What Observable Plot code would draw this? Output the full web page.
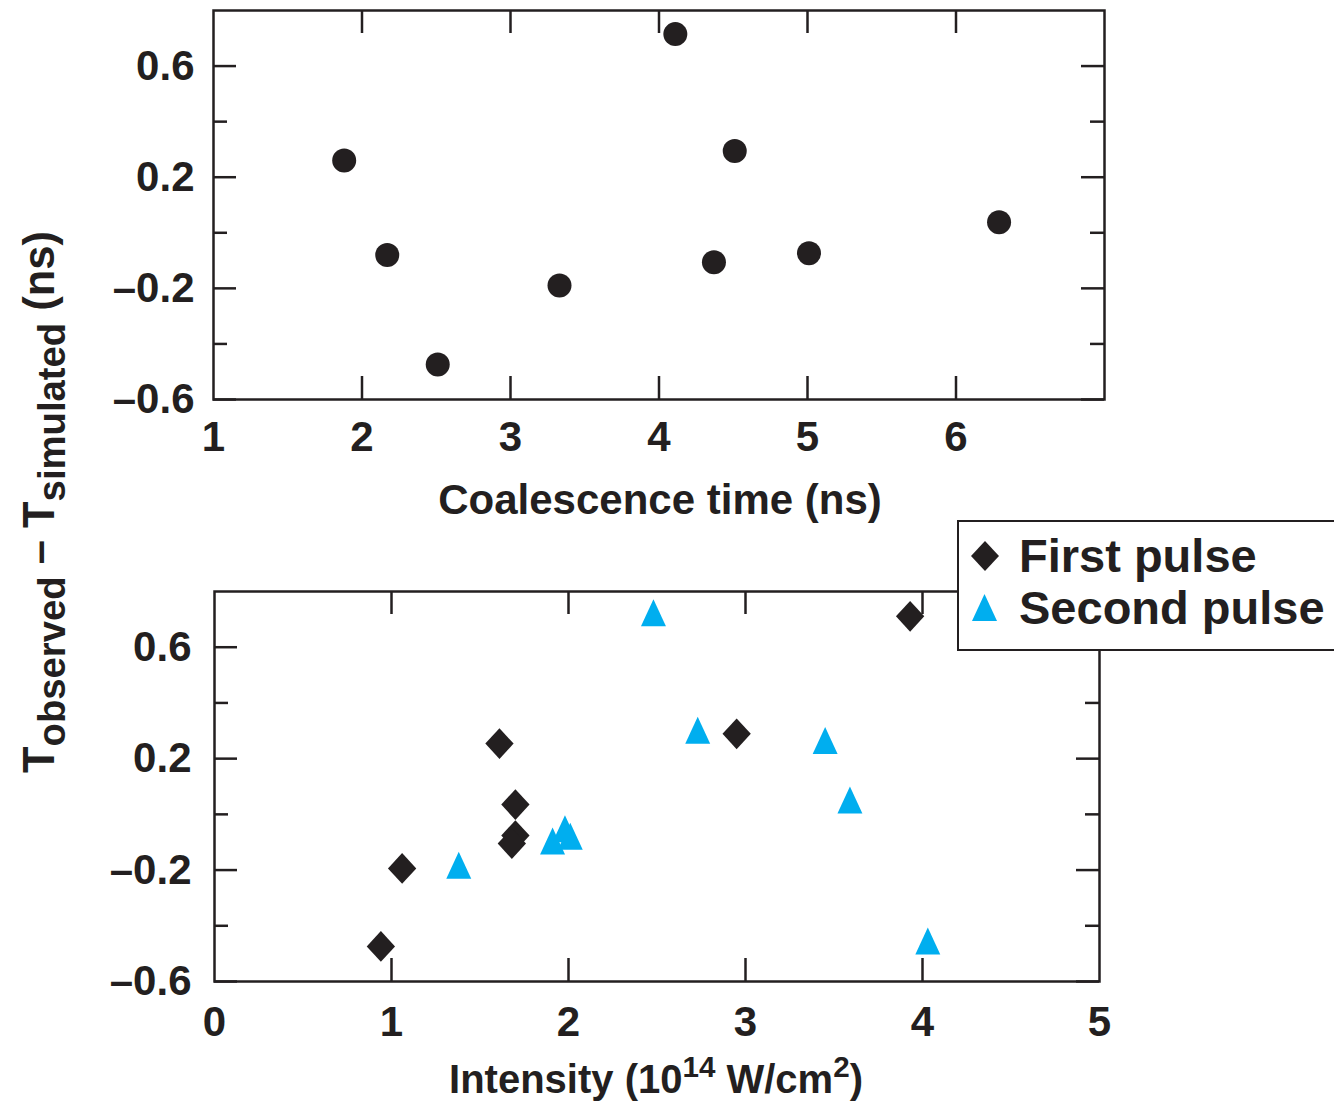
<!DOCTYPE html>
<html>
<head>
<meta charset="utf-8">
<script src="https://cdn.jsdelivr.net/npm/d3@7"></script>
<script src="https://cdn.jsdelivr.net/npm/@observablehq/plot@0.6"></script>
<style>
  body { margin: 0; background: #fff; }
  #wrap { position: relative; width: 1334px; height: 1101px; overflow: hidden;
          font-family: "Liberation Sans", Arial, Helvetica, sans-serif; font-weight: bold; color: #231f20; }
  #top, #bottom { position: absolute; left: 0; }
  #top { top: 0; }
  #bottom { top: 560px; }
  .title { position: absolute; white-space: nowrap; line-height: 1; }
  .title sup { font-size: 0.74em; vertical-align: 0; position: relative; top: -0.55em; line-height: 0; }
  .title sub { font-size: 0.88em; vertical-align: 0; position: relative; top: 0.3em; line-height: 0; }
  #xtitleTop { font-size: 42px; }
  #xtitleBottom { font-size: 40px; }
  #ytitle { font-size: 43.5px; left: 40px; top: 502px; transform: translate(-50%, -50%) rotate(-90deg); }
  #legend { position: absolute; left: 957px; top: 520px; width: 420px; height: 131px; box-sizing: border-box;
            border: 2.5px solid #231f20; background: #fff; z-index: 5; }
  .lrow { position: absolute; left: 0; white-space: nowrap; font-size: 47px; line-height: 1; }
  .lrow svg { position: absolute; }
  .lrow span { position: absolute; left: 60px; }
</style>
</head>
<body>
<div id="wrap">
  <div id="top"></div>
  <div id="bottom"></div>
  <div class="title" id="xtitleTop"></div>
  <div class="title" id="xtitleBottom"></div>
  <div class="title" id="ytitle"></div>
  <div id="legend"></div>
</div>
<script>
// ---------- data ----------
const coalescenceTime  = [1.88, 2.17, 2.51, 3.33, 4.11, 4.37, 4.51, 5.01, 6.29];
const coalescenceDelta = [0.26, -0.08, -0.474, -0.19, 0.715, -0.106, 0.294, -0.074, 0.038];

const firstIntensity  = [0.94, 1.06, 1.61, 1.70, 1.70, 1.68, 2.95, 3.93];
const firstDelta      = [-0.474, -0.194, 0.254, 0.035, -0.076, -0.105, 0.289, 0.711];

const secondIntensity = [1.38, 1.91, 1.98, 2.01, 2.48, 2.73, 3.45, 3.59, 4.03];
const secondDelta     = [-0.199, -0.112, -0.068, -0.095, 0.708, 0.286, 0.249, 0.035, -0.471];

const topXTicks       = [1, 2, 3, 4, 5, 6];
const topXInnerTicks  = [2, 3, 4, 5, 6];
const botXTicks       = [0, 1, 2, 3, 4, 5];
const botXInnerTicks  = [1, 2, 3, 4];
const yMajorTicks     = [0.6, 0.2, -0.2, -0.6];
const yMinorTicks     = [0.4, 0, -0.4];

const seriesNames = ["First pulse", "Second pulse"];
const titleTop    = "Coalescence time (ns)";

// ---------- styles ----------
const INK = "#231f20";
const CYAN = "#00aeef";
const fontStyle = { fontFamily: "Liberation Sans, Arial, Helvetica, sans-serif", fontSize: "42px",
                    fontWeight: "bold", color: INK, background: "transparent", overflow: "visible" };

// custom symbols (shape only; size comes from the dot's r)
const diamondSym = { draw(ctx, size) { const r = Math.sqrt(size / Math.PI);
  const hw = 1.18 * r, hh = 1.28 * r;
  ctx.moveTo(0, -hh); ctx.lineTo(hw, 0); ctx.lineTo(0, hh); ctx.lineTo(-hw, 0); ctx.closePath(); } };
const triangleSym = { draw(ctx, size) { const r = Math.sqrt(size / Math.PI);
  const hw = 1.04 * r;
  ctx.moveTo(0, -1.5 * r); ctx.lineTo(hw, 0.75 * r); ctx.lineTo(-hw, 0.75 * r); ctx.closePath(); } };

const fmtY = d => (d < 0 ? "\u2013" : "") + Math.abs(d).toFixed(1);
const TICK_MAJOR = 23, TICK_MINOR = 14;

function frameTicks(xInner, innerW, innerH) {
  return [
    Plot.tickX(xInner, { x: d => d, insetTop: innerH - TICK_MAJOR, stroke: INK, strokeWidth: 2.5 }),
    Plot.tickX(xInner, { x: d => d, insetBottom: innerH - TICK_MAJOR, stroke: INK, strokeWidth: 2.5 }),
    Plot.tickY(yMajorTicks, { y: d => d, insetRight: innerW - TICK_MAJOR, stroke: INK, strokeWidth: 2.5 }),
    Plot.tickY(yMajorTicks, { y: d => d, insetLeft: innerW - TICK_MAJOR, stroke: INK, strokeWidth: 2.5 }),
    Plot.tickY(yMinorTicks, { y: d => d, insetRight: innerW - TICK_MINOR, stroke: INK, strokeWidth: 2.5 }),
    Plot.tickY(yMinorTicks, { y: d => d, insetLeft: innerW - TICK_MINOR, stroke: INK, strokeWidth: 2.5 })
  ];
}

// ---------- top panel ----------
{
  const W = 1334, H = 540, mL = 213, mR = 230, mT = 10, mB = 141;
  const innerW = W - mL - mR, innerH = H - mT - mB;
  const coal = coalescenceTime.map((t, i) => ({ t, d: coalescenceDelta[i] }));
  const p = Plot.plot({
    width: W, height: H, marginLeft: mL, marginRight: mR, marginTop: mT, marginBottom: mB,
    style: fontStyle,
    x: { domain: [1, 7] },
    y: { domain: [-0.6, 0.8] },
    marks: [
      ...frameTicks(topXInnerTicks, innerW, innerH),
      Plot.axisX(topXTicks, { tickSize: 0, tickPadding: 22, label: null, tickFormat: d => String(d) }),
      Plot.axisY(yMajorTicks, { tickSize: 0, tickPadding: 19, label: null, tickFormat: fmtY }),
      Plot.frame({ stroke: INK, strokeWidth: 2.5 }),
      Plot.dot(coal, { x: "t", y: "d", r: 12, fill: INK })
    ]
  });
  document.getElementById("top").append(p);
}

// ---------- bottom panel ----------
{
  const W = 1334, H = 500, mL = 214, mR = 235, mT = 31, mB = 79;
  const innerW = W - mL - mR, innerH = H - mT - mB;
  const first = firstIntensity.map((x, i) => ({ x, d: firstDelta[i] }));
  const second = secondIntensity.map((x, i) => ({ x, d: secondDelta[i] }));
  const p = Plot.plot({
    width: W, height: H, marginLeft: mL, marginRight: mR, marginTop: mT, marginBottom: mB,
    style: fontStyle,
    x: { domain: [0, 5] },
    y: { domain: [-0.6, 0.8] },
    marks: [
      ...frameTicks(botXInnerTicks, innerW, innerH),
      Plot.axisX(botXTicks, { tickSize: 0, tickPadding: 25, label: null, tickFormat: d => String(d) }),
      Plot.axisY(yMajorTicks, { tickSize: 0, tickPadding: 23, label: null, tickFormat: fmtY }),
      Plot.frame({ stroke: INK, strokeWidth: 2.5 }),
      Plot.dot(second, { x: "x", y: "d", r: 12, fill: CYAN, symbol: triangleSym }),
      Plot.dot(first, { x: "x", y: "d", r: 12, fill: INK, symbol: diamondSym })
    ]
  });
  document.getElementById("bottom").append(p);
}

// ---------- titles ----------
const tTop = document.getElementById("xtitleTop");
tTop.textContent = titleTop;
tTop.style.left = "660px"; tTop.style.top = "479px"; tTop.style.transform = "translateX(-50%)";

const tBot = document.getElementById("xtitleBottom");
tBot.innerHTML = "Intensity (10<sup>14</sup> W/cm<sup>2</sup>)";
tBot.style.left = "656px"; tBot.style.top = "1059px"; tBot.style.transform = "translateX(-50%)";

document.getElementById("ytitle").innerHTML =
  "T<sub>observed</sub> \u2013 T<sub>simulated</sub> (ns)";

// ---------- legend ----------
const legend = document.getElementById("legend");
const legendSymbols = [
  { name: seriesNames[0], color: INK,  pts: "14,0 28,15 14,30 0,15" },
  { name: seriesNames[1], color: CYAN, pts: "12.5,0 25,27 0,27" }
];
legendSymbols.forEach((s, i) => {
  const row = document.createElement("div");
  row.className = "lrow";
  row.style.top = (i === 0 ? 10 : 62) + "px";
  row.innerHTML = `<svg width="30" height="32" style="left:${i === 0 ? 12 : 13}px; top:${i === 0 ? 9 : 10}px">
      <polygon points="${s.pts}" fill="${s.color}"/></svg><span>${s.name}</span>`;
  legend.append(row);
});
</script>
</body>
</html>
